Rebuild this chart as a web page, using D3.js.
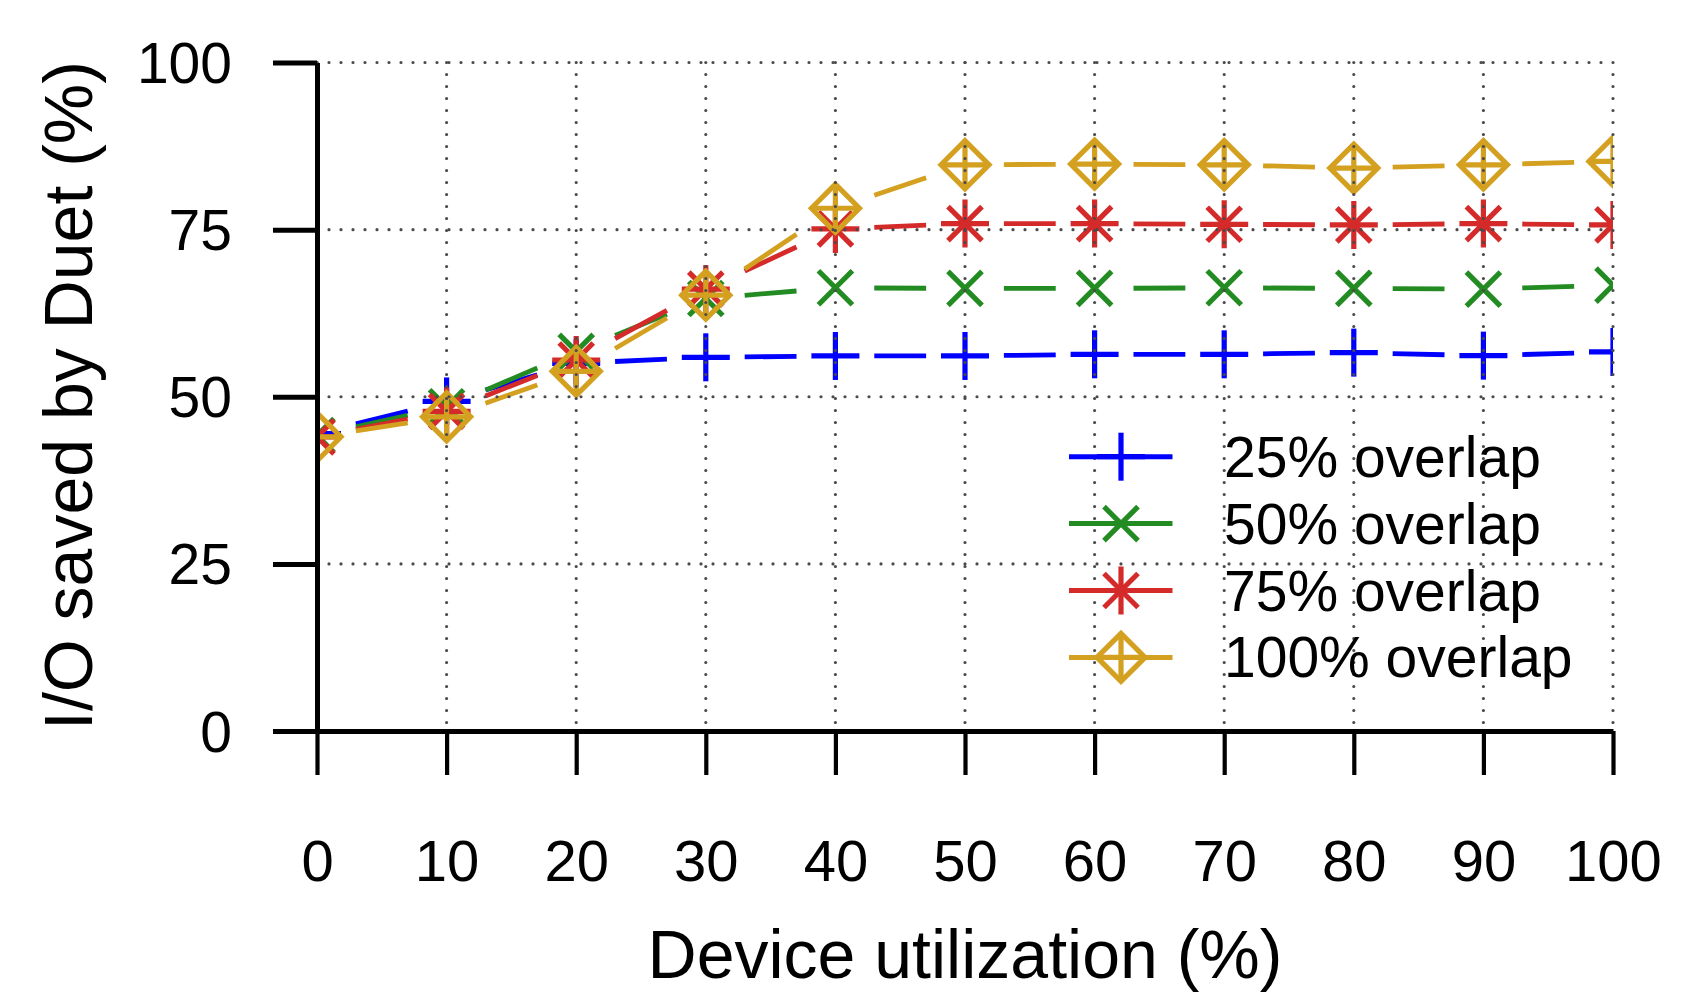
<!DOCTYPE html>
<html>
<head>
<meta charset="utf-8">
<script src="https://cdn.jsdelivr.net/npm/d3@7"></script>
<style>
  html, body { margin: 0; padding: 0; background: #fff; }
  svg { display: block; }
  text { font-family: "Liberation Sans", Arial, sans-serif; fill: #000; }
</style>
</head>
<body>
<svg id="chart" width="1696" height="992"></svg>
<script>
// ---- data ----
const utilization = [0, 10, 20, 30, 40, 50, 60, 70, 80, 90, 100];
const overlap25  = [44.5, 49.3, 55.0, 55.9, 56.1, 56.1, 56.35, 56.35, 56.6, 56.15, 56.7];
const overlap50  = [44.2, 48.5, 56.8, 64.7, 66.3, 66.2, 66.2, 66.3, 66.2, 66.1, 66.7];
const overlap75  = [44.0, 47.8, 55.5, 66.1, 75.1, 75.9, 75.9, 75.8, 75.7, 75.9, 75.7];
const overlap100 = [44.0, 47.0, 53.8, 65.2, 78.2, 84.7, 84.8, 84.7, 84.2, 84.7, 85.2];
const seriesNames = ["25% overlap", "50% overlap", "75% overlap", "100% overlap"];
const xTicks = [0, 10, 20, 30, 40, 50, 60, 70, 80, 90, 100];
const yTicks = [0, 25, 50, 75, 100];
const xTitle = "Device utilization (%)";
const yTitle = "I/O saved by Duet (%)";

const seriesValues = [overlap25, overlap50, overlap75, overlap100];
const colors = ["#0000ff", "#228b22", "#d42a2a", "#d4a020"];
const markerTypes = ["plus", "cross", "star", "diamond"];

// ---- layout ----
const svg = d3.select("#chart");
const pLeft = 317, pRight = 1613, pTop = 62.5, pBottom = 731;
const x = d3.scaleLinear().domain([0, 100]).range([pLeft, pRight]);
const y = d3.scaleLinear().domain([0, 100]).range([pBottom, pTop]);

svg.append("defs").append("clipPath").attr("id", "plotclip")
  .append("rect").attr("x", pLeft).attr("y", pTop - 30)
  .attr("width", pRight - pLeft).attr("height", pBottom - pTop + 30);

function drawMarker(g, type, cx, cy, color) {
  const R = 24, r = 17;
  const sw = 5.2;
  const line = (x1, y1, x2, y2) => g.append("line")
    .attr("x1", x1).attr("y1", y1).attr("x2", x2).attr("y2", y2)
    .attr("stroke", color).attr("stroke-width", sw).attr("stroke-linecap", "butt");
  if (type === "plus" || type === "star" || type === "diamond") {
    line(cx - R, cy, cx + R, cy);
    line(cx, cy - R, cx, cy + R);
  }
  if (type === "cross" || type === "star") {
    line(cx - r, cy - r, cx + r, cy + r);
    line(cx - r, cy + r, cx + r, cy - r);
  }
  if (type === "diamond") {
    g.append("path")
      .attr("d", `M${cx - R},${cy}L${cx},${cy - R}L${cx + R},${cy}L${cx},${cy + R}Z`)
      .attr("fill", "none").attr("stroke", color).attr("stroke-width", sw)
      .attr("stroke-linejoin", "miter");
  }
}

// ---- data series ----
const plot = svg.append("g").attr("clip-path", "url(#plotclip)");
seriesValues.forEach((vals, si) => {
  const g = plot.append("g");
  const pts = utilization.map((u, i) => [x(u), y(vals[i])]);
  for (let i = 0; i < pts.length - 1; i++) {
    const [x1, y1] = pts[i], [x2, y2] = pts[i + 1];
    const t0 = 0.3, t1 = 0.7;
    g.append("line")
      .attr("x1", x1 + (x2 - x1) * t0).attr("y1", y1 + (y2 - y1) * t0)
      .attr("x2", x1 + (x2 - x1) * t1).attr("y2", y1 + (y2 - y1) * t1)
      .attr("stroke", colors[si]).attr("stroke-width", 4.8).attr("stroke-linecap", "butt");
  }
  pts.forEach(([px, py]) => drawMarker(g, markerTypes[si], px, py, colors[si]));
});

// ---- grid (in front) ----
const grid = svg.append("g");
yTicks.forEach(v => {
  grid.append("line").attr("x1", pLeft).attr("x2", pRight).attr("y1", y(v)).attr("y2", y(v))
    .attr("stroke", "#4a4a4a").attr("stroke-width", 3.2).attr("stroke-linecap", "round")
    .attr("stroke-dasharray", "0,12");
});
xTicks.forEach(v => {
  grid.append("line").attr("x1", x(v)).attr("x2", x(v)).attr("y1", pTop).attr("y2", pBottom)
    .attr("stroke", "#4a4a4a").attr("stroke-width", 3.2).attr("stroke-linecap", "round")
    .attr("stroke-dasharray", "0,12");
});

// ---- axes ----
const yAxis = svg.append("g").attr("transform", `translate(${pLeft},0)`)
  .call(d3.axisLeft(y).tickValues(yTicks).tickSize(44).tickSizeOuter(0).tickPadding(41));
yAxis.select(".domain").attr("stroke", "#000").attr("stroke-width", 5);
yAxis.selectAll(".tick line").attr("stroke", "#000").attr("stroke-width", 5);
yAxis.selectAll(".tick text").attr("font-size", 57).attr("dy", null)
  .attr("dominant-baseline", "central")
  .style("font-family", "'Liberation Sans', Arial, sans-serif");

const xAxis = svg.append("g").attr("transform", `translate(0,${pBottom})`)
  .call(d3.axisBottom(x).tickValues(xTicks).tickSize(44).tickSizeOuter(0));
xAxis.select(".domain").attr("stroke", "#000").attr("stroke-width", 5);
xAxis.selectAll(".tick line").attr("stroke", "#000").attr("stroke-width", 4.2);
xAxis.selectAll(".tick text").attr("font-size", 58).attr("y", 150).attr("dy", null)
  .style("font-family", "'Liberation Sans', Arial, sans-serif");

// ---- titles ----
svg.append("text").attr("x", (pLeft + pRight) / 2).attr("y", 978)
  .attr("text-anchor", "middle").attr("font-size", 68).text(xTitle);
svg.append("text").attr("transform", `translate(92,${(58 + 733) / 2}) rotate(-90)`)
  .attr("text-anchor", "middle").attr("font-size", 68).text(yTitle);

// ---- legend ----
const legend = svg.append("g");
const legY0 = 456.7, legDy = 66.9;
seriesNames.forEach((name, si) => {
  const ly = legY0 + si * legDy;
  legend.append("line").attr("x1", 1069).attr("x2", 1172.5).attr("y1", ly).attr("y2", ly)
    .attr("stroke", colors[si]).attr("stroke-width", 5);
  drawMarker(legend, markerTypes[si], 1121, ly, colors[si]);
  legend.append("text").attr("x", 1224).attr("y", ly).attr("dominant-baseline", "central")
    .attr("font-size", 57).text(name);
});
</script>
</body>
</html>
